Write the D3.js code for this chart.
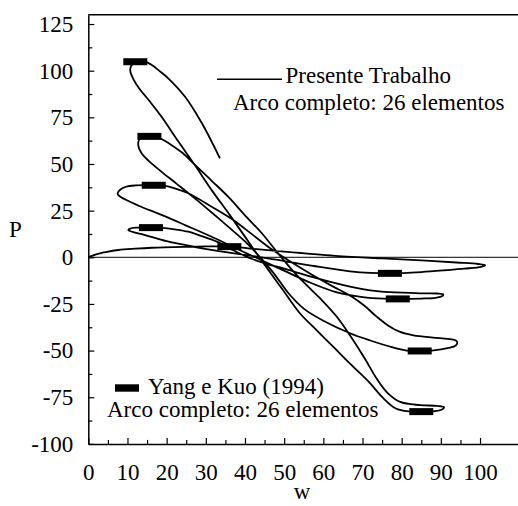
<!DOCTYPE html>
<html>
<head>
<meta charset="utf-8">
<script src="https://cdn.jsdelivr.net/npm/d3@7"></script>
<style>
body { margin: 0; background: #fff; }
svg { display: block; }
text { font-family: "Liberation Serif", "Times New Roman", serif; font-size: 23px; fill: #000; }
</style>
</head>
<body>
<script>
var xTicks = [0, 10, 20, 30, 40, 50, 60, 70, 80, 90, 100];
var xMinor = [5, 15, 25, 35, 45, 55, 65, 75, 85, 95];
var yTicks = [-100, -75, -50, -25, 0, 25, 50, 75, 100, 125];
var yMinor = [-87.5, -62.5, -37.5, -12.5, 12.5, 37.5, 62.5, 87.5, 112.5];

// equilibrium path (w, P), split at the turning points
var branch0 = [[0, 0], [2, 1.6], [4.5, 2.8], [7.7, 3.9], [12, 4.6], [16.2, 5.1], [24.7, 5.6], [30, 5.8], [36, 5.8],
    [41.3, 4.7], [50, 3], [63, 0.8], [75, -0.6], [85, -1.6], [94, -2.8], [99.5, -3.6], [101.3, -4.3]];
var branch1 = [[101.3, -4.3], [100.3, -5.1], [96, -6.1], [91.5, -6.9], [85, -7.9], [77, -8.6], [72, -8.4], [66.8, -7.5],
    [58, -4.8], [50, -2], [44.3, 0], [36, 2.5], [27.3, 5.5], [20, 8.6], [14.5, 11.9], [11.3, 13.6], [10.2, 14.6]];
var branch2 = [[10.2, 14.6], [10.7, 15.4], [12.5, 15.9], [16, 16], [18.9, 15.8], [22, 15], [25.5, 13.7], [29, 11.3],
    [32.8, 8.4], [37, 3.8], [41.3, -0.5], [45.5, -3.5], [49.8, -6], [58, -11], [66.8, -15.7], [72, -17.7], [77, -18.7],
    [84.7, -19.3], [89, -19.4], [90.6, -19.9]];
var branch3 = [[90.6, -19.9], [90.3, -20.9], [88.7, -21.7], [85, -22.1], [79, -22.3], [75.5, -22.2], [70, -21.3],
    [63, -18.5], [56, -13], [49.8, -7], [42.6, 0], [37, 5.5], [31.5, 11], [25, 17], [18.7, 22.7], [13, 27.5],
    [9.6, 30.8], [7.8, 33], [7.5, 34.3]];
var branch4 = [[7.5, 34.3], [8.2, 36.3], [9.6, 37.8], [12, 38.5], [16.7, 38.6], [19.6, 38.3], [22, 37], [25.5, 34.3],
    [31.5, 27.1], [37, 20], [42, 12], [47, 4], [52.3, -3.2], [57, -9.2], [62.5, -15.7], [67, -20.8], [70.5, -26],
    [73.6, -31.8], [76.5, -36.5], [79.6, -40], [83, -41.8], [88, -43], [91.8, -43.7], [93.7, -44.5], [94.2, -45.7]];
var branch5 = [[94.2, -45.7], [93.8, -47.3], [92, -48.6], [87.7, -50], [84.5, -50.2], [81.3, -50], [77.5, -48.2],
    [72, -44.6], [66.8, -40.7], [60, -34], [55, -27.5], [51, -19], [47.5, -9], [44.3, -1], [40, 8.5], [35.7, 16.4],
    [31.5, 24], [27.2, 31.6], [22.5, 39.5], [18.7, 45.8], [15.5, 51.5], [13.6, 55.7], [12.8, 59.5], [12.8, 62]];
var branch6 = [[12.8, 62], [13.3, 64], [14.5, 64.8], [17, 64.8], [18.6, 63.5], [21, 60.5], [24, 56], [27.5, 49],
    [31.5, 41], [35.7, 32.5], [40, 22.5], [44.3, 12.9], [48.5, 2], [52.8, -8.6], [56, -15.5], [59.6, -22.9],
    [63.5, -32], [67, -42.5], [70.5, -54], [73.6, -65], [76.3, -72.5], [79.6, -77.5], [84.7, -79.2], [89, -79.6],
    [90.8, -80.3]];
var branch7 = [[90.8, -80.3], [90.3, -81.6], [88, -82.6], [85, -82.7], [82, -82.6], [78.5, -81], [75.3, -75.5],
    [71.5, -66.5], [66.8, -57], [62.5, -47.9], [58, -38.5], [54, -30], [49.5, -17], [45, -4], [40.5, 9.5], [36, 23],
    [31.5, 36], [27.2, 49.4], [23, 62], [18.7, 75.3], [15.5, 84], [13, 90.5], [11.5, 95.5], [10.7, 100], [11, 102.8],
    [12, 104.3], [13.5, 104.8]];
var branch8 = [[13.5, 104.8], [15, 104.5], [16.5, 102.6], [17.9, 100.3], [20.4, 95.9], [24.7, 86], [29, 71.8], [33.6, 53]];

// Yang e Kuo (1994) limit points
var yangW = [12, 15.6, 16.7, 16, 36, 77, 79, 84.6, 85];
var yangP = [104.8, 64.8, 38.6, 15.9, 5.7, -8.6, -22.3, -50.2, -82.7];

var width = 518,
    height = 506;

var svg = d3.select('body')
    .append('svg')
    .attr('width', width)
    .attr('height', height);

var x = d3.scaleLinear()
    .domain([0, 110])
    .range([88.3, 519.2]);

var y = d3.scaleLinear()
    .domain([-100, 130])
    .range([443.9, 14.7]);

function plain(d) { return String(d); }

// minor ticks first, no labels
svg.append('g')
    .attr('transform', 'translate(0,' + y(-100) + ')')
    .call(d3.axisBottom(x).tickValues(xMinor).tickSize(-4).tickFormat(''))
    .call(g => g.select('.domain').remove());

svg.append('g')
    .attr('transform', 'translate(' + x(0) + ',0)')
    .call(d3.axisLeft(y).tickValues(yMinor).tickSize(-4).tickFormat(''))
    .call(g => g.select('.domain').remove());

var xAxis = svg.append('g')
    .attr('class', 'axis')
    .attr('transform', 'translate(0,' + y(-100) + ')')
    .call(d3.axisBottom(x).tickValues(xTicks).tickSize(-6).tickSizeOuter(0).tickPadding(20).tickFormat(plain));

var yAxis = svg.append('g')
    .attr('class', 'axis')
    .attr('transform', 'translate(' + x(0) + ',0)')
    .call(d3.axisLeft(y).tickValues(yTicks).tickSize(-6).tickSizeOuter(0).tickPadding(15).tickFormat(plain));

svg.selectAll('.tick line').attr('stroke', '#000').attr('stroke-width', 1.2);
svg.selectAll('.axis .domain').attr('stroke', '#000').attr('stroke-width', 1.5);

// top border
svg.append('line')
    .attr('x1', x(0)).attr('x2', x(110))
    .attr('y1', y(130)).attr('y2', y(130))
    .attr('stroke', '#000')
    .attr('stroke-width', 1.5);

// P = 0 line
svg.append('line')
    .attr('x1', x(0)).attr('x2', x(110))
    .attr('y1', y(0)).attr('y2', y(0))
    .attr('stroke', '#000')
    .attr('stroke-width', 1);

var branches = [branch0, branch1, branch2, branch3, branch4, branch5, branch6, branch7, branch8];
var pathData = branches.reduce((acc, b, i) => acc.concat(i ? b.slice(1) : b), []);

var line = d3.line()
    .x(d => x(d[0]))
    .y(d => y(d[1]))
    .curve(d3.curveCatmullRom.alpha(0.5));

svg.append('path')
    .datum(pathData)
    .attr('d', line)
    .attr('fill', 'none')
    .attr('stroke', '#000')
    .attr('stroke-width', 1.8)
    .attr('stroke-linejoin', 'round');

svg.append('g')
    .selectAll('rect')
    .data(yangW).enter()
    .append('rect')
    .attr('x', d => x(d) - 12)
    .attr('y', (d, i) => y(yangP[i]) - 3.5)
    .attr('width', 24)
    .attr('height', 7)
    .attr('fill', '#000');

// legends
svg.append('line')
    .attr('x1', 217).attr('x2', 282)
    .attr('y1', 79.3).attr('y2', 79.3)
    .attr('stroke', '#000')
    .attr('stroke-width', 1.5);
svg.append('text').attr('x', 285.5).attr('y', 82.5).text('Presente Trabalho');
svg.append('text').attr('x', 233).attr('y', 110).text('Arco completo: 26 elementos');

svg.append('rect')
    .attr('x', 115).attr('y', 384.3)
    .attr('width', 24).attr('height', 7.4)
    .attr('fill', '#000');
svg.append('text').attr('x', 148).attr('y', 393.5).text('Yang e Kuo (1994)');
svg.append('text').attr('x', 107).attr('y', 417).text('Arco completo: 26 elementos');

// axis titles
svg.append('text').attr('x', 9).attr('y', 237.3).text('P');
svg.append('text').attr('x', 302).attr('y', 499).attr('text-anchor', 'middle').text('w');
</script>
</body>
</html>
